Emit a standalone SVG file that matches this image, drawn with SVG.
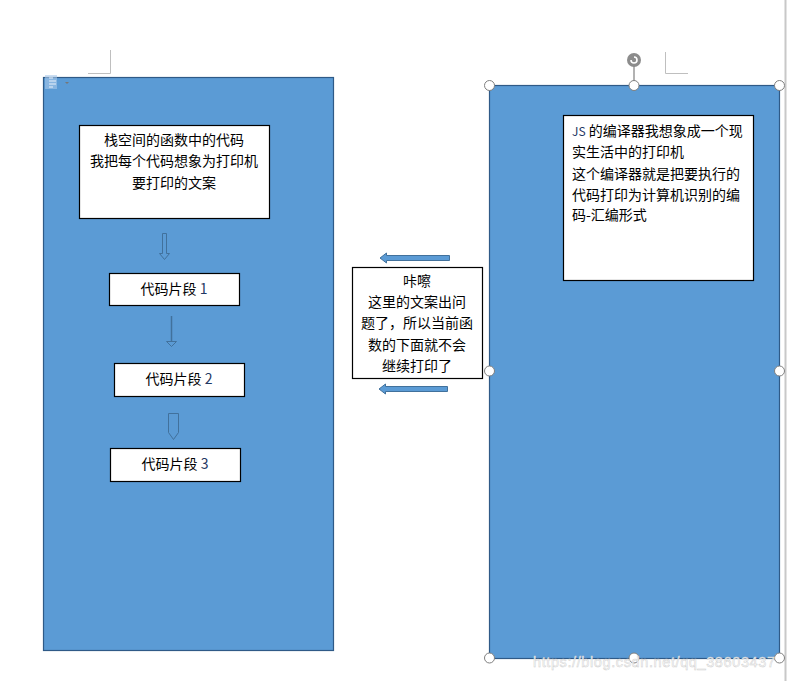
<svg xmlns="http://www.w3.org/2000/svg" width="787" height="681" viewBox="0 0 787 681">
<style>
.panel{fill:#5B9BD5;stroke:#2F5A87;stroke-width:1.2}
.box{fill:#fff;stroke:#000;stroke-width:1.2}
.t{font-family:"Microsoft YaHei","Noto Sans CJK SC",sans-serif;font-size:14px;fill:#000}
.c{text-anchor:middle}
.num{fill:#1F3864}
.arr{fill:#5B9BD5;stroke:#41719C;stroke-width:1}
.h{fill:#fff;stroke:#7f7f7f;stroke-width:1}
.mark{fill:none;stroke:#bfbfbf;stroke-width:1}
</style>
<rect width="787" height="681" fill="#fff"/>
<line x1="785.5" y1="0" x2="785.5" y2="681" stroke="#c8c8c8" stroke-width="2"/>
<path class="mark" d="M88 73.5H110.5V50"/>
<path class="mark" d="M665.5 52V73.5H688"/>
<g id="left-panel">
<rect class="panel" x="43.5" y="77.5" width="290" height="573"/>
<rect x="45" y="75" width="12" height="14" fill="#a9c8ea" opacity="0.6"/>
<path d="M49 78h4M49 81h7M49 84h7M49 87h4" stroke="#e8f0fa" stroke-width="1" fill="none"/>
<path d="M65 82h4l-2 2z" fill="#777"/>
</g>
<g id="right-panel">
<line x1="634" y1="66" x2="634" y2="85" stroke="#7f7f7f" stroke-width="1.2"/>
<circle cx="634" cy="60" r="7" fill="#8c8c8c"/>
<path d="M631 60a3 3 0 1 0 3-3" fill="none" stroke="#fff" stroke-width="1.6"/>
<rect class="panel" x="489.5" y="85.5" width="290" height="573"/>
</g>
<g id="node-stack">
<rect class="box" x="79.5" y="125.5" width="190" height="93"/>
<text class="t c" x="174" y="145">栈空间的函数中的代码</text>
<text class="t c" x="174" y="166">我把每个代码想象为打印机</text>
<text class="t c" x="174" y="188">要打印的文案</text>
</g>
<g id="node-seg1">
<rect class="box" x="109.5" y="273.5" width="130" height="32"/>
<text class="t c" x="174" y="294">代码片段 <tspan class="num">1</tspan></text>
</g>
<g id="node-seg2">
<rect class="box" x="114.5" y="363.5" width="130" height="33"/>
<text class="t c" x="179" y="384">代码片段 <tspan class="num">2</tspan></text>
</g>
<g id="node-seg3">
<rect class="box" x="110.5" y="448.5" width="130" height="33"/>
<text class="t c" x="175" y="469">代码片段 <tspan class="num">3</tspan></text>
</g>
<g id="node-middle">
<rect class="box" x="352.5" y="267.5" width="130" height="111"/>
<text class="t c" x="417" y="286">咔嚓</text>
<text class="t c" x="417" y="307">这里的文案出问</text>
<text class="t c" x="417" y="328">题了，所以当前函</text>
<text class="t c" x="417" y="350">数的下面就不会</text>
<text class="t c" x="417" y="371">继续打印了</text>
</g>
<g id="node-compiler">
<rect class="box" x="563.5" y="115.5" width="190" height="165"/>
<text class="t" x="572" y="136"><tspan class="num" font-size="12">JS</tspan> 的编译器我想象成一个现</text>
<text class="t" x="572" y="157">实生活中的打印机</text>
<text class="t" x="572" y="179">这个编译器就是把要执行的</text>
<text class="t" x="572" y="200">代码打印为计算机识别的编</text>
<text class="t" x="572" y="220">码-汇编形式</text>
</g>
<g id="connectors">
<path class="arr" d="M162.5 233.5h4v20h3l-5 6l-5-6h3z"/>
<line x1="171.5" y1="316" x2="171.5" y2="341" stroke="#41719C" stroke-width="1.5"/>
<path class="arr" d="M166.5 341.5h10l-5 5z"/>
<path class="arr" d="M168.5 413.5h10v19l-5 7l-5-7z"/>
<path class="arr" d="M449.5 255.5v5h-63v2.5l-6.5-5l6.5-5v2.5z"/>
<path class="arr" d="M447.5 386.5v5h-62v2.5l-6.5-5l6.5-5v2.5z"/>
</g>
<g id="handles">
<circle class="h" cx="489.5" cy="85.5" r="5"/>
<circle class="h" cx="634" cy="85.5" r="5"/>
<circle class="h" cx="779.5" cy="85.5" r="5"/>
<circle class="h" cx="489.5" cy="371" r="5"/>
<circle class="h" cx="779.5" cy="371" r="5"/>
<circle class="h" cx="489.5" cy="658" r="5"/>
<circle class="h" cx="634" cy="658" r="5"/>
<circle class="h" cx="779.5" cy="658" r="5"/>
</g>
<text x="533" y="667" textLength="242" font-family="Liberation Sans, Arial, sans-serif" font-size="14.5" fill="#ffffff" fill-opacity="0.85" stroke="#d0d0d0" stroke-width="0.5">https://blog.csdn.net/qq_38603437</text>
</svg>
